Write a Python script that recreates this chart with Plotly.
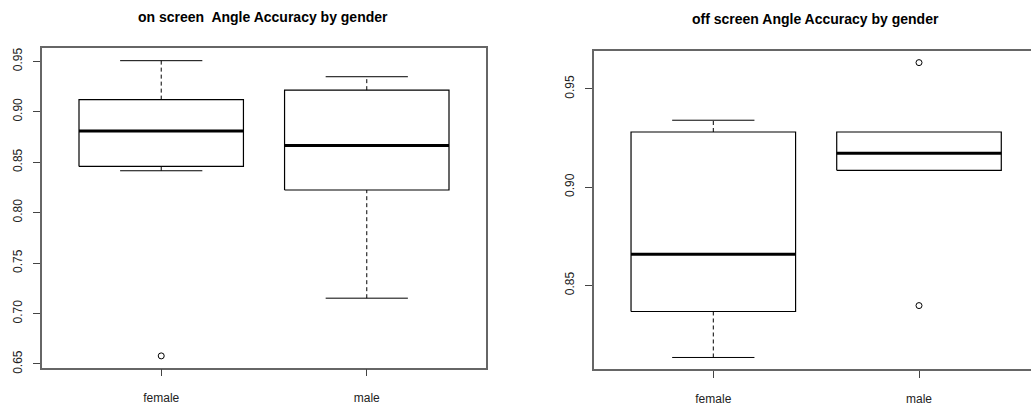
import plotly.graph_objects as go

# five-number summaries (R-style boxplots)
groups = ["female", "male"]

on_lower = [0.8415, 0.7152]
on_q1 = [0.8458, 0.8224]
on_median = [0.8808, 0.8665]
on_q3 = [0.9120, 0.9214]
on_upper = [0.9506, 0.9347]
on_outliers = [[0.658], []]

off_lower = [0.8133, 0.9085]
off_q1 = [0.8367, 0.9085]
off_median = [0.8658, 0.9172]
off_q3 = [0.9280, 0.9280]
off_upper = [0.9340, 0.9280]
off_outliers = [[], [0.9633, 0.8397]]

on_ticks = [0.65, 0.70, 0.75, 0.80, 0.85, 0.90, 0.95]
off_ticks = [0.85, 0.90, 0.95]

fig = go.Figure()

BOX_HALF = 0.4
CAP_HALF = 0.2
W, H = 1031, 408


def add_boxes(lower, q1, med, q3, upper, outliers, xa, ya):
    for i in range(len(groups)):
        x = i + 1
        # dashed whiskers
        for a, b in [(lower[i], q1[i]), (q3[i], upper[i])]:
            if a != b:
                fig.add_trace(go.Scatter(x=[x, x], y=[a, b], mode="lines",
                                         line=dict(color="black", width=1, dash="4px,3px"),
                                         xaxis=xa, yaxis=ya, hoverinfo="skip"))
        # staples
        for v, q in [(lower[i], q1[i]), (upper[i], q3[i])]:
            if v != q:
                fig.add_trace(go.Scatter(x=[x - CAP_HALF, x + CAP_HALF], y=[v, v], mode="lines",
                                         line=dict(color="black", width=1),
                                         xaxis=xa, yaxis=ya, hoverinfo="skip"))
        # box
        fig.add_trace(go.Scatter(
            x=[x - BOX_HALF, x + BOX_HALF, x + BOX_HALF, x - BOX_HALF, x - BOX_HALF],
            y=[q1[i], q1[i], q3[i], q3[i], q1[i]], mode="lines",
            line=dict(color="black", width=1.2), xaxis=xa, yaxis=ya, hoverinfo="skip"))
        # median
        fig.add_trace(go.Scatter(x=[x - BOX_HALF, x + BOX_HALF], y=[med[i], med[i]], mode="lines",
                                 line=dict(color="black", width=3),
                                 xaxis=xa, yaxis=ya, hoverinfo="skip"))
        if outliers[i]:
            fig.add_trace(go.Scatter(x=[x] * len(outliers[i]), y=outliers[i], mode="markers",
                                     marker=dict(symbol="circle-open", size=6, color="black",
                                                 line=dict(width=1)),
                                     xaxis=xa, yaxis=ya, hoverinfo="skip"))


add_boxes(on_lower, on_q1, on_median, on_q3, on_upper, on_outliers, "x", "y")
add_boxes(off_lower, off_q1, off_median, off_q3, off_upper, off_outliers, "x2", "y2")

axis_common = dict(showgrid=False, zeroline=False, showline=True, linecolor="#666",
                   linewidth=1.5, ticks="outside", ticklen=7, tickcolor="#444",
                   tickfont=dict(size=12, color="#222"))


def px_x(p):
    return p / W


def px_y(p):
    return (H - p) / H


fig.update_layout(
    width=W,
    height=H,
    margin=dict(l=0, r=0, t=0, b=0),
    showlegend=False,
    plot_bgcolor="white",
    paper_bgcolor="white",
    font=dict(family="Liberation Sans, Arial, sans-serif", color="#222"),
    xaxis=dict(domain=[px_x(42), px_x(486)], range=[0.42, 2.58], ticklabelstandoff=11,
               mirror=True, tickvals=[1, 2], ticktext=groups, anchor="y", **axis_common),
    yaxis=dict(domain=[px_y(373), px_y(48.3)], range=[0.6464, 0.9627], ticklabelstandoff=6,
               mirror=True, tickvals=on_ticks, ticktext=[f"{t:.2f}" for t in on_ticks],
               tickangle=-90, anchor="x", **axis_common),
    # right panel runs past the page edge in the reference, so no right border
    xaxis2=dict(domain=[px_x(594), 1.0], range=[0.42, 2.5445], ticklabelstandoff=11,
                mirror=True, tickvals=[1, 2], ticktext=groups, anchor="y2", **axis_common),
    yaxis2=dict(domain=[px_y(374.7), px_y(50.7)], range=[0.8073, 0.9693], ticklabelstandoff=6,
                mirror=False, tickvals=off_ticks, ticktext=[f"{t:.2f}" for t in off_ticks],
                tickangle=-90, anchor="x2", **axis_common),
    annotations=[
        dict(text="<b>on screen\u00a0 Angle Accuracy by gender</b>", x=px_x(263.3), y=px_y(16),
             xref="paper", yref="paper", xanchor="center", yanchor="middle", showarrow=False,
             font=dict(size=14, color="black")),
        dict(text="<b>off screen Angle Accuracy by gender</b>", x=px_x(815), y=px_y(18),
             xref="paper", yref="paper", xanchor="center", yanchor="middle", showarrow=False,
             font=dict(size=14, color="black")),
    ],
)

fig.write_html("out.html", config={"displayModeBar": False},
               post_script="document.body.style.margin='0';")
